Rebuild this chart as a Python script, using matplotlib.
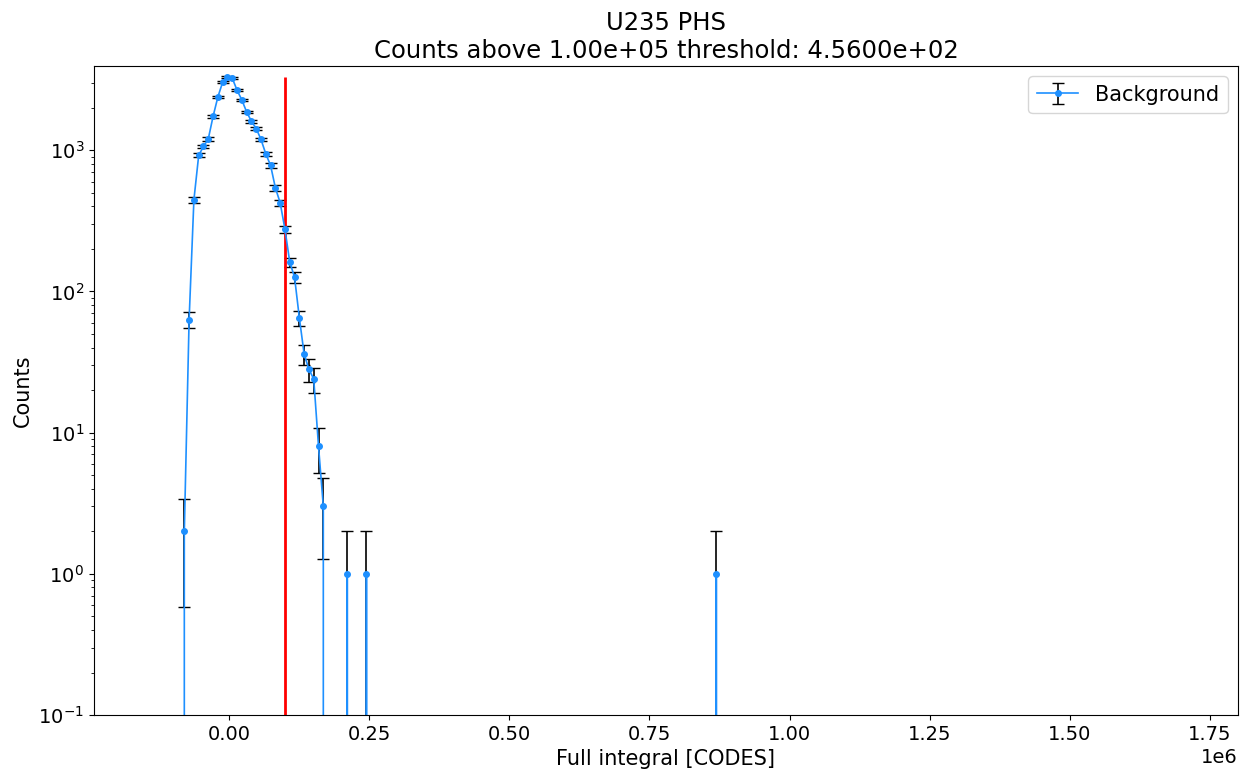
import numpy as np
import matplotlib
matplotlib.use("Agg")
import matplotlib.pyplot as plt

# histogram binning (full integral, codes)
bin_lo = -148e3
bin_width = 8550
n_bins = 218

# non-zero bins
peak_start = 8
peak_counts = [2, 63, 445, 920, 1062, 1202, 1734, 2381, 3033, 3289,
               3240, 2660, 2271, 1866, 1603, 1424, 1191, 941, 780, 541,
               424, 275, 161, 126, 65, 36, 28, 24, 8, 3]
single_bins = [42, 46, 119]  # isolated bins with one count each

threshold = 1e5
title = "U235 PHS\nCounts above 1.00e+05 threshold: 4.5600e+02"

centers = bin_lo + bin_width * np.arange(n_bins)
counts = np.zeros(n_bins)
counts[peak_start:peak_start + len(peak_counts)] = peak_counts
counts[single_bins] = 1
errs = np.sqrt(counts)

plt.rcParams['font.size'] = 14
fig = plt.figure(figsize=(12.48, 7.73), dpi=100)
ax = fig.add_axes([0.0753, 0.075, 0.9167, 0.8397])

ax.errorbar(centers, counts, yerr=errs, fmt='o-', color='dodgerblue',
            ecolor='black', markersize=4, linewidth=1.2, elinewidth=1.2,
            capsize=4, label='Background')
ax.vlines(threshold, 0, counts.max(), color='red', linewidth=2)

ax.set_yscale('log')
ax.set_ylim(0.1, 3950)
ax.set_xlabel('Full integral [CODES]', fontsize=15)
ax.set_ylabel('Counts', fontsize=15)
ax.set_title(title, fontsize=17.5)
ax.legend(loc='upper right', fontsize=15)

fig.savefig('out.png', dpi=100)
